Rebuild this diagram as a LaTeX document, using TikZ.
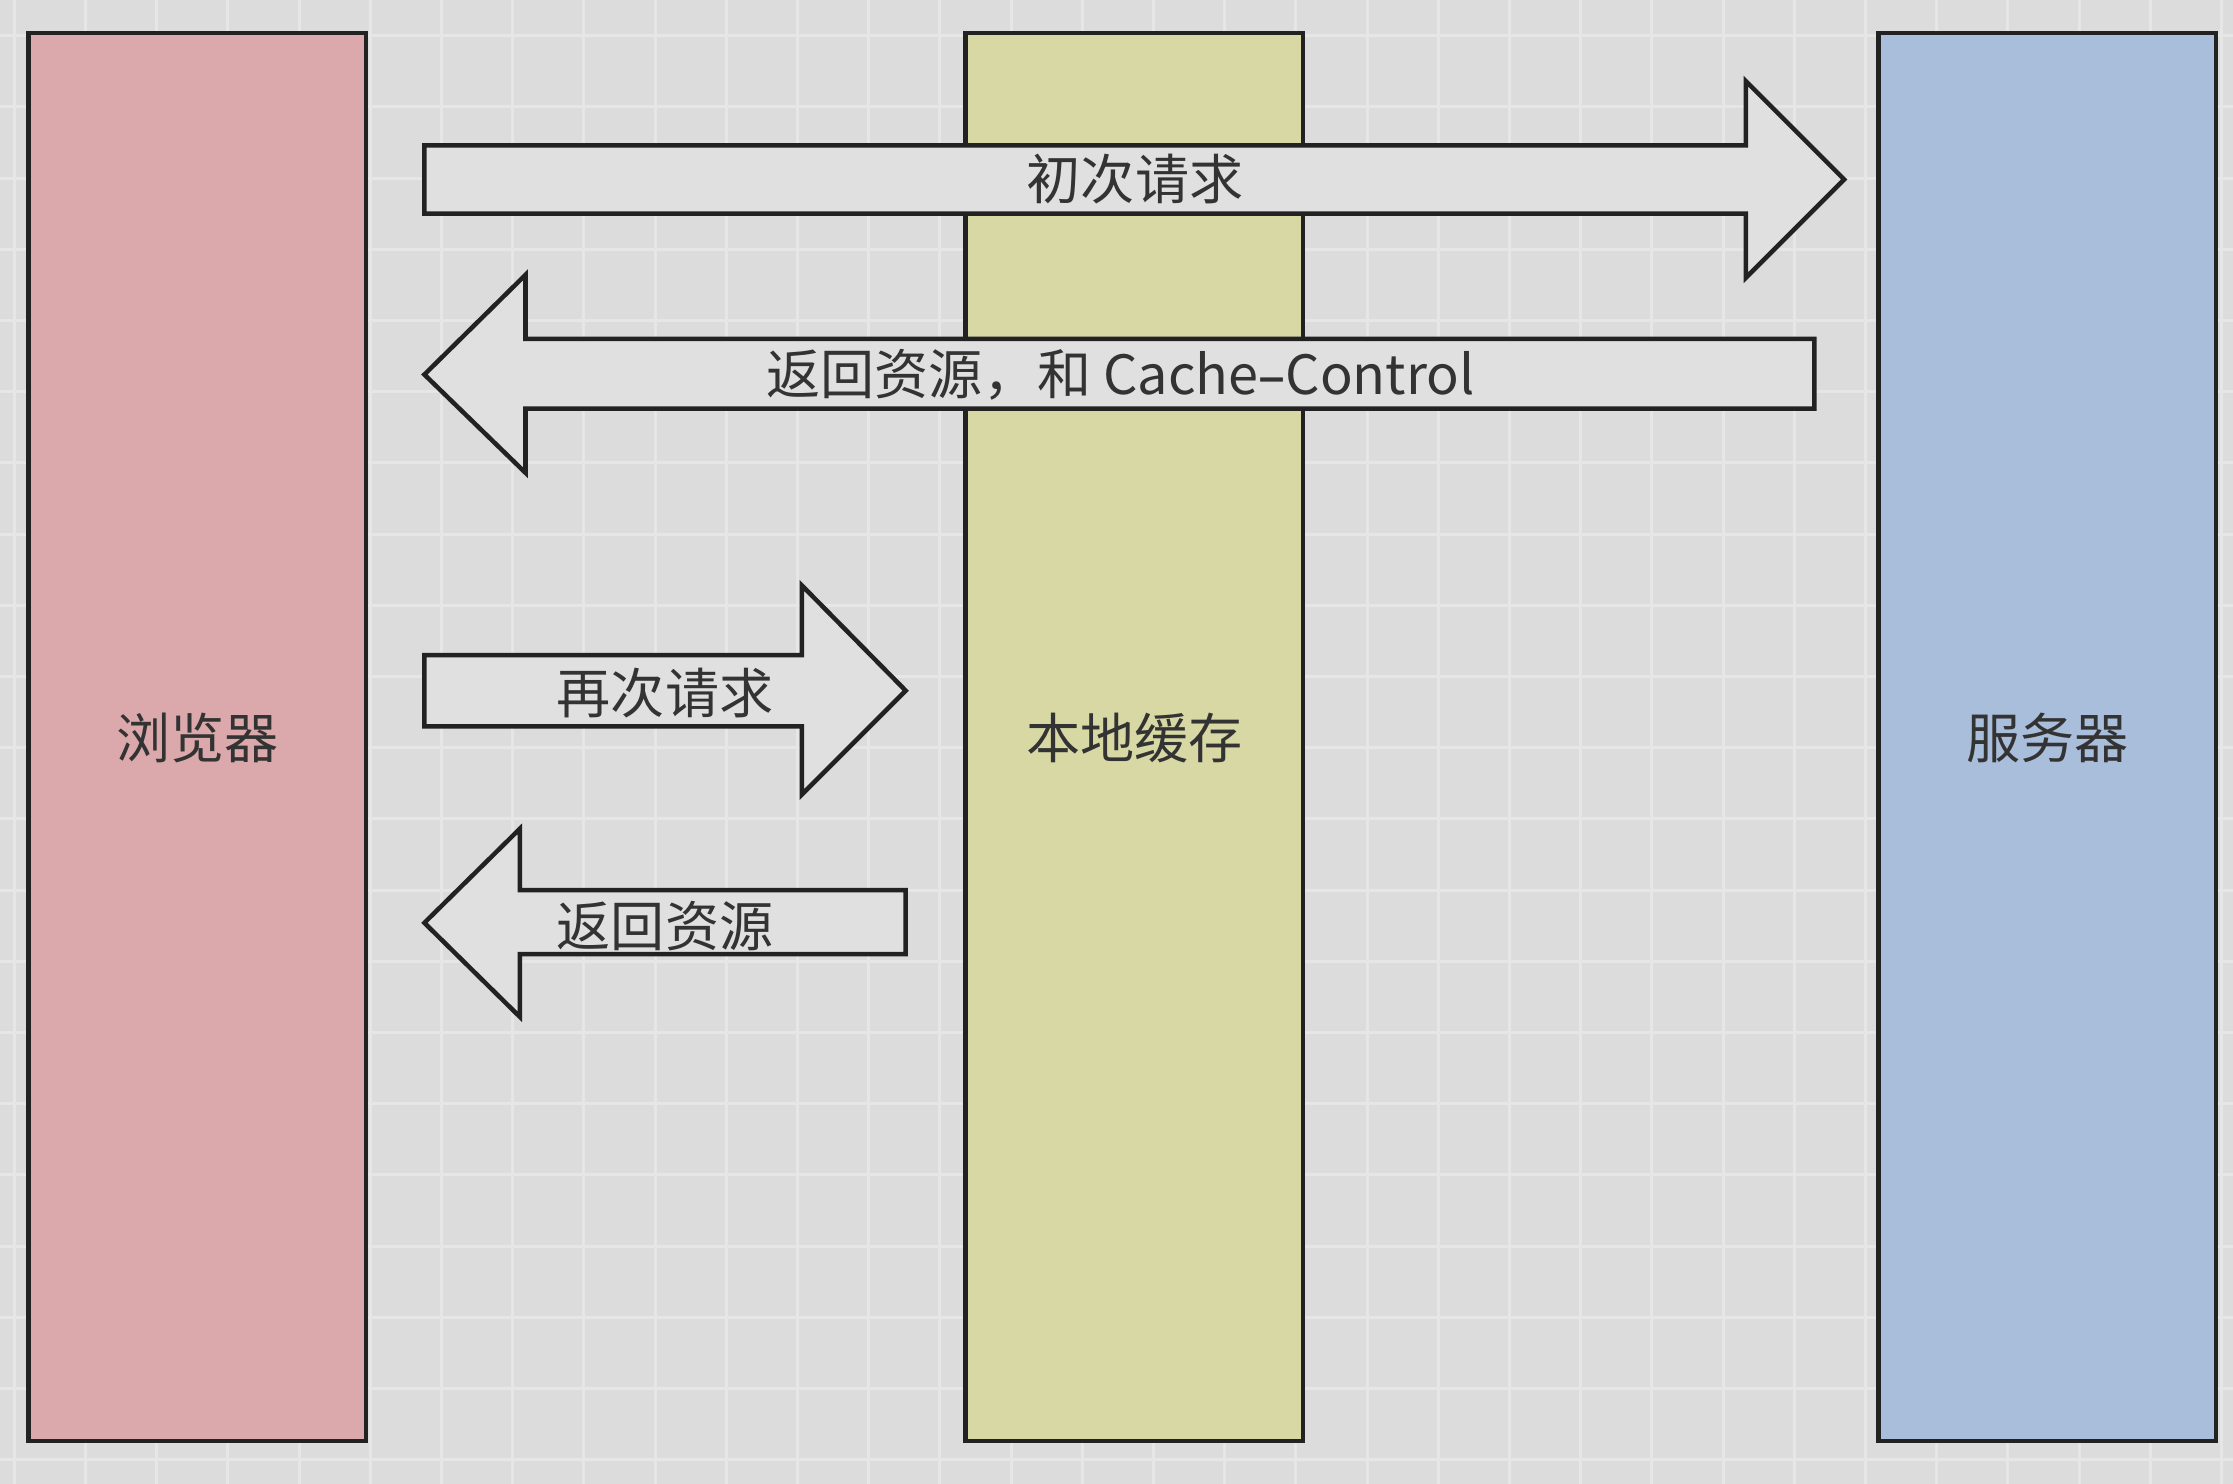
\documentclass[tikz,border=0pt]{standalone}
\usepackage{fontspec}
\setmainfont{Noto Sans CJK SC}
\definecolor{bg}{HTML}{DCDCDC}
\definecolor{gridc}{HTML}{E6E6E6}
\definecolor{pinkc}{HTML}{DBA8AB}
\definecolor{yelc}{HTML}{D8D8A5}
\definecolor{bluec}{HTML}{A8BEDB}
\definecolor{arrc}{HTML}{E0E0E0}
\definecolor{linec}{HTML}{222222}
\tikzset{
 col/.style={draw=linec,line width=0.9pt},
 arr/.style={draw=linec,fill=arrc,line width=0.9pt,line join=miter},
 lbl/.style={font=\fontsize{10.8pt}{13pt}\selectfont,text=black!80}
}
\begin{document}
\begin{tikzpicture}[x=0.01cm,y=-0.01cm]
\useasboundingbox (0,0) rectangle (1568,1042);
\fill[bg] (0,0) rectangle (1568,1042);
\foreach \i in {0,50,...,1550} \draw[gridc,line width=0.6pt] (\i+10,0) -- (\i+10,1042);
\foreach \j in {0,50,...,1040} \draw[gridc,line width=0.6pt] (0,\j+25) -- (1568,\j+25);
\draw[col,fill=pinkc] (20,23) rectangle (257,1012);
\draw[col,fill=yelc] (678,23) rectangle (915,1012);
\draw[col,fill=bluec] (1319,23) rectangle (1556,1012);
\node[lbl] (b) at (138.5,518) {浏览器};
\node[lbl] (c) at (796.5,518) {本地缓存};
\node[lbl] (s) at (1437.5,518) {服务器};
% arrow 1
\draw[arr] (298,102) -- (1226,102) -- (1226,57) -- (1295,126) -- (1226,195) -- (1226,150) -- (298,150) -- cycle;
\node[lbl] (a1) at (797,126) {初次请求};
% arrow 2
\draw[arr] (1274,238) -- (369,238) -- (369,193) -- (298,263) -- (369,332) -- (369,287) -- (1274,287) -- cycle;
\node[lbl] (a2) at (787,263) {返回资源，和 Cache{\fontspec{Noto Sans}–}Control};
% arrow 3
\draw[arr] (298,460) -- (563,460) -- (563,411) -- (636,485) -- (563,558) -- (563,510) -- (298,510) -- cycle;
\node[lbl] (a3) at (467,487) {再次请求};
% arrow 4
\draw[arr] (636,625) -- (365,625) -- (365,582) -- (298,648) -- (365,714) -- (365,670) -- (636,670) -- cycle;
\node[lbl] (a4) at (467,650) {返回资源};
\end{tikzpicture}
\end{document}
